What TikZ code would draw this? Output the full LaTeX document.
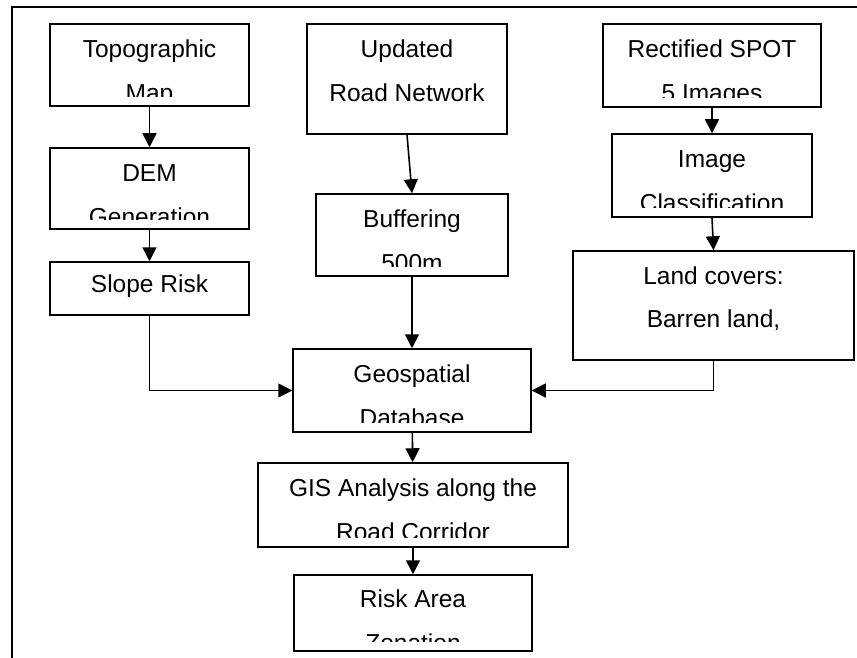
\documentclass[tikz,border=0pt]{standalone}
\usepackage{fontspec}
\setmainfont{Liberation Sans}
\usetikzlibrary{arrows.meta}

\begin{document}
\begin{tikzpicture}
[
    x=1pt,y=-1pt,
    blk/.style={rectangle,draw=black,line width=1.5pt,inner sep=0pt},
    txt/.style={anchor=base,inner sep=0pt,font=\fontsize{24.5}{29}\selectfont},
    arr/.style={line width=1.6pt,-{Triangle[length=14pt,width=14pt]}},
    frame/.style={line width=1.8pt}
]
\useasboundingbox (0,0) rectangle (857,658);
\draw[frame] (12,658) -- (12,7) -- (857,7);

% left column
\node (topo) at (149.5,65) [blk,minimum width=199pt,minimum height=82pt] {};
\node (topo1) at ([yshift=-34pt]topo.north) [txt] {Topographic};
\node (topo2) at ([yshift=-78pt]topo.north) [txt] {Map};

\node (dem) at (149.5,188.5) [blk,minimum width=199pt,minimum height=81pt] {};
\node (dem1) at ([yshift=-34pt]dem.north) [txt] {DEM};
\node (dem2) at ([yshift=-78pt]dem.north) [txt] {Generation};

\node (slope) at (149.5,288.5) [blk,minimum width=199pt,minimum height=53pt] {};
\node (slope1) at ([yshift=-31pt]slope.north) [txt] {Slope Risk};

% middle column
\node (road) at (407,79) [blk,minimum width=200pt,minimum height=110pt] {};
\node (road1) at ([yshift=-34pt]road.north) [txt] {Updated};
\node (road2) at ([yshift=-78pt]road.north) [txt] {Road Network};

\node (buf) at (412,235) [blk,minimum width=192pt,minimum height=82pt] {};
\node (buf1) at ([yshift=-34pt]buf.north) [txt] {Buffering};
\node (buf2) at ([yshift=-78pt]buf.north) [txt] {500m};

% right column
\node (spot) at (712,65.5) [blk,minimum width=218pt,minimum height=83pt] {};
\node (spot1) at ([yshift=-34pt]spot.north) [txt] {Rectified SPOT};
\node (spot2) at ([yshift=-78pt]spot.north) [txt] {5 Images};

\node (cls) at (712,175.5) [blk,minimum width=200pt,minimum height=83pt] {};
\node (cls1) at ([yshift=-34pt]cls.north) [txt] {Image};
\node (cls2) at ([yshift=-78pt]cls.north) [txt] {Classification};

\node (land) at (713.5,305.5) [blk,minimum width=281pt,minimum height=109pt] {};
\node (land1) at ([yshift=-34pt]land.north) [txt] {Land covers:};
\node (land2) at ([yshift=-77pt]land.north) [txt] {Barren land,};

% bottom chain
\node (geo) at (412,390.5) [blk,minimum width=238pt,minimum height=83pt] {};
\node (geo1) at ([yshift=-34pt]geo.north) [txt] {Geospatial};
\node (geo2) at ([yshift=-78pt]geo.north) [txt] {Database};

\node (gis) at (413,505) [blk,minimum width=310pt,minimum height=84pt] {};
\node (gis1) at ([yshift=-34pt]gis.north) [txt] {GIS Analysis along the};
\node (gis2) at ([yshift=-78pt]gis.north) [txt] {Road Corridor};

\node (zone) at (413,613) [blk,minimum width=238pt,minimum height=76pt] {};
\node (zone1) at ([yshift=-33pt]zone.north) [txt] {Risk Area};
\node (zone2) at ([yshift=-77pt]zone.north) [txt] {Zonation};

% second lines are cut off at the bottom of the boxes
\foreach \b in {topo,dem,spot,cls,buf,geo,gis,zone}
  \fill[white] ([xshift=2.2pt,yshift=2.2pt]\b.south west) rectangle ([xshift=-2.2pt,yshift=9.5pt]\b.south east);

\draw[arr] (topo) -- (dem);
\draw[arr] (dem) -- (slope);
\draw[arr] (road.south) -- (buf.north);
\draw[arr] (buf) -- (geo);
\draw[arr] (spot) -- (cls);
\draw[arr] (cls.south) -- (land.north);
\draw[arr] (slope.south) |- (geo.west);
\draw[arr] (land.south) |- (geo.east);
\draw[arr] (geo) -- (gis);
\draw[arr] (gis) -- (zone);

\end{tikzpicture}
\end{document}
